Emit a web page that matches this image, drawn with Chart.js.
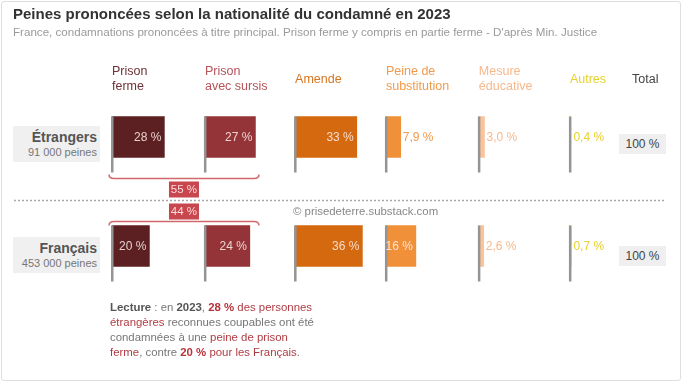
<!DOCTYPE html>
<html lang="fr">
<head>
<meta charset="utf-8">
<script src="https://cdn.jsdelivr.net/npm/chart.js@4.4.1/dist/chart.umd.min.js"></script>
<style>
  html, body { margin: 0; padding: 0; background: #fff; }
  #wrap { position: relative; width: 684px; height: 384px; overflow: hidden; font-family: "Liberation Sans", Arial, sans-serif; }
  #frame { position: absolute; left: 1px; top: 1px; width: 680px; height: 380px; border: 1px solid #dedede; border-radius: 3px; box-sizing: border-box; }
  canvas { position: absolute; left: 0; top: 0; }
  .abs { position: absolute; white-space: nowrap; }
  #title { left: 13px; top: 5px; font-weight: bold; font-size: 15px; color: #333; }
  #subtitle { left: 13px; top: 25px; font-size: 11.6px; color: #9a9a9a; }
  .rowbox { left: 13px; width: 87px; height: 36px; background: #f0f0f0; text-align: right; box-sizing: border-box; padding-right: 3px; }
  .rowname { font-weight: bold; font-size: 14px; color: #555; line-height: 16px; padding-top: 3px; }
  .rowcount { font-size: 11px; color: #777; line-height: 14px; }
  .totbox { left: 619px; width: 47px; height: 20px; background: #efefef; text-align: center; font-size: 12px; color: #444; line-height: 20px; }
  #copy { left: 293px; top: 205px; font-size: 11.4px; color: #888; }
  #lecture { left: 110px; top: 300px; font-size: 11.4px; line-height: 15px; color: #777; }
  #lecture b.k { color: #555; }
  #lecture .r { color: #b03c43; }
  #lecture b.r { color: #b8323a; }
</style>
</head>
<body>
<div id="wrap">
  <div id="frame"></div>
  <canvas id="c" width="684" height="384"></canvas>
  <div class="abs" id="title">Peines prononcées selon la nationalité du condamné en 2023</div>
  <div class="abs" id="subtitle">France, condamnations prononcées à titre principal. Prison ferme y compris en partie ferme - D'après Min. Justice</div>
  <div class="abs rowbox" id="row0" style="top:126px"><div class="rowname"></div><div class="rowcount"></div></div>
  <div class="abs rowbox" id="row1" style="top:237px"><div class="rowname"></div><div class="rowcount"></div></div>
  <div class="abs totbox" id="tot0" style="top:134px"></div>
  <div class="abs totbox" id="tot1" style="top:246px"></div>
  <div class="abs" id="copy">© prisedeterre.substack.com</div>
  <div class="abs" id="lecture"><b class="k">Lecture</b> : en <b class="k">2023</b>, <b class="r">28 %</b> <span class="r">des personnes</span><br><span class="r">étrangères</span> reconnues coupables ont été<br>condamnées à une <span class="r">peine de prison</span><br><span class="r">ferme</span>, contre <b class="r">20 %</b> <span class="r">pour les Français</span>.</div>
</div>
<script>
// ---------- DATA ----------
const categories = ['Prison ferme', 'Prison avec sursis', 'Amende', 'Peine de substitution', 'Mesure éducative', 'Autres'];
const headerLines = [['Prison', 'ferme'], ['Prison', 'avec sursis'], ['Amende'], ['Peine de', 'substitution'], ['Mesure', 'éducative'], ['Autres']];
const rows = ['Étrangers', 'Français'];
const rowCounts = ['91 000 peines', '453 000 peines'];
const totals = ['100 %', '100 %'];
const etrangers = [28, 27, 33, 7.9, 3.0, 0.4];
const francais = [20, 24, 36, 16, 2.6, 0.7];
const totalHeader = 'Total';

// ---------- STYLE / LAYOUT ----------
const barColors = ['#5c2023', '#943438', '#d4690f', '#f0913a', '#fac49b', '#efd83a'];
const headColors = ['#6e3236', '#b5535a', '#d87520', '#f29a4c', '#f7b88c', '#e8d22c'];
// column origins, in x-scale units (1 unit = 1 percentage point)
const colOrigin = [59.9, 109.6, 157.8, 206.4, 256.1, 304.8];

const series = [etrangers, francais];
function fmt(v) { return (v < 10 ? v.toFixed(1).replace('.', ',') : String(Math.round(v))) + ' %'; }

document.querySelectorAll('.rowbox').forEach((el, i) => {
  el.querySelector('.rowname').textContent = rows[i];
  el.querySelector('.rowcount').textContent = rowCounts[i];
});
document.getElementById('tot0').textContent = totals[0];
document.getElementById('tot1').textContent = totals[1];

const datasets = categories.map((cat, ci) => ({
  label: cat,
  data: series.map(s => [colOrigin[ci], colOrigin[ci] + s[ci]]),
  backgroundColor: barColors[ci],
  borderWidth: 0,
  grouped: false,
  barThickness: 41
}));

const FONT = '"Liberation Sans", Arial, sans-serif';

const deco = {
  id: 'deco',
  afterDatasetsDraw(chart) {
    const ctx = chart.ctx;
    const xs = chart.scales.x;
    ctx.save();
    // headers
    ctx.textBaseline = 'middle';
    ctx.textAlign = 'left';
    ctx.font = '12.5px ' + FONT;
    headerLines.forEach((lines, ci) => {
      const px = xs.getPixelForValue(colOrigin[ci]);
      ctx.fillStyle = headColors[ci];
      if (lines.length === 1) ctx.fillText(lines[0], px, 79.5);
      else { ctx.fillText(lines[0], px, 72); ctx.fillText(lines[1], px, 87); }
    });
    ctx.fillStyle = '#444';
    ctx.fillText(totalHeader, 632, 79.5);

    // bars: poles + labels
    const boxes = [];
    chart.data.datasets.forEach((ds, di) => {
      const meta = chart.getDatasetMeta(di);
      meta.data.forEach((el, ri) => {
        const p = el.getProps(['x', 'y', 'base', 'height'], true);
        const top = p.y - p.height / 2;
        const bot = p.y + p.height / 2;
        boxes[ri] = { top, bot };
        // pole
        ctx.fillStyle = '#949494';
        ctx.fillRect(p.base - 1, top, 2.5, p.height + 15);
        // label
        const v = series[ri][di];
        ctx.font = '12px ' + FONT;
        ctx.textBaseline = 'middle';
        if (v >= 15) {
          ctx.textAlign = 'right';
          ctx.fillStyle = 'rgba(255,240,235,0.85)';
          ctx.fillText(fmt(v), p.x - 3, p.y + 0.5);
        } else {
          ctx.textAlign = 'left';
          ctx.fillStyle = headColors[di];
          ctx.fillText(fmt(v), Math.max(p.x, p.base + 1.5) + 2, p.y + 0.5);
        }
      });
    });

    // braces + sums of prison categories (ferme + sursis)
    const x0 = xs.getPixelForValue(colOrigin[0]) - 3;
    const x1 = xs.getPixelForValue(colOrigin[1]) + 54;
    const xm = (x0 + x1) / 2;
    ctx.strokeStyle = '#d0676c';
    ctx.lineWidth = 1.5;
    let yl = boxes[0].bot + 21;
    ctx.beginPath();
    ctx.moveTo(x0, yl - 4);
    ctx.quadraticCurveTo(x0, yl, x0 + 5, yl);
    ctx.lineTo(x1 - 5, yl);
    ctx.quadraticCurveTo(x1, yl, x1, yl - 4);
    ctx.stroke();
    let yl2 = boxes[1].top - 4;
    ctx.beginPath();
    ctx.moveTo(x0, yl2 + 4);
    ctx.quadraticCurveTo(x0, yl2, x0 + 5, yl2);
    ctx.lineTo(x1 - 5, yl2);
    ctx.quadraticCurveTo(x1, yl2, x1, yl2 + 4);
    ctx.stroke();

    // dotted separator
    ctx.strokeStyle = '#a8a8a8';
    ctx.lineWidth = 1.5;
    ctx.setLineDash([2, 2]);
    ctx.beginPath();
    ctx.moveTo(14, 200.5);
    ctx.lineTo(664, 200.5);
    ctx.stroke();
    ctx.setLineDash([]);

    // sum boxes
    const sums = series.map(s => Math.round(s[0] + s[1]));
    const sumBoxes = [[yl + 3, 16], [yl2 - 18, 16]];
    sums.forEach((sv, ri) => {
      const [by, bh] = sumBoxes[ri];
      ctx.fillStyle = '#c8464d';
      ctx.fillRect(xm - 15, by, 30, bh);
      ctx.fillStyle = 'rgba(255,235,235,0.9)';
      ctx.font = '11.5px ' + FONT;
      ctx.textAlign = 'center';
      ctx.textBaseline = 'middle';
      ctx.fillText(sv + ' %', xm, by + bh / 2 + 0.5);
    });
    ctx.restore();
  }
};

new Chart(document.getElementById('c'), {
  type: 'bar',
  data: { labels: rows, datasets },
  options: {
    indexAxis: 'y',
    responsive: false,
    animation: false,
    layout: { padding: { top: 82.5, bottom: 83.5, left: 0, right: 0 } },
    scales: {
      x: { type: 'linear', min: 0, max: 365.8, display: false },
      y: { type: 'category', display: false, offset: true }
    },
    plugins: { legend: { display: false }, tooltip: { enabled: false }, title: { display: false } }
  },
  plugins: [deco]
});
</script>
</body>
</html>
